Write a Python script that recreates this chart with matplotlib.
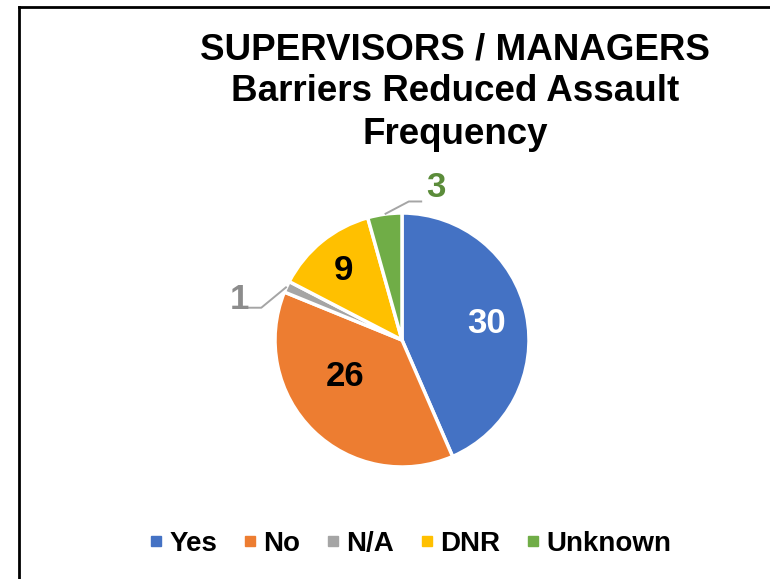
import numpy as np
import matplotlib
matplotlib.use("Agg")
import matplotlib.pyplot as plt
from matplotlib.lines import Line2D

plt.rcParams["font.family"] = ["Liberation Sans", "DejaVu Sans"]
plt.rcParams["font.weight"] = "bold"

categories = ["Yes", "No", "N/A", "DNR", "Unknown"]
counts = [30, 26, 1, 9, 3]
colors = ["#4472C4", "#ED7D31", "#A5A5A5", "#FFC000", "#70AD47"]
label_colors = ["white", "black", "#8C8C8C", "black", "#5B8C3A"]

# inside labels: (radius fraction, angle shift in degrees); None -> outside label
inside_pos = [(0.685, 1), (0.52, -15), None, (0.73, 0), None]
# outside labels: elbow offset from slice edge, run direction, text offset
outside_pos = {2: ((-0.2, -0.165), -1, (-0.07, 0.065)),
               4: ((0.19, 0.10), 1, (0.11, 0.11))}

fig = plt.figure(figsize=(7.7, 5.79), dpi=100)
W, H = 770, 579
R = 127  # pie radius in pixels
cx, cy = 402, 340
lim = 1.8
side = 2 * lim * R
ax = fig.add_axes([(cx - side / 2) / W, (H - cy - side / 2) / H, side / W, side / H])

wedges, _ = ax.pie(counts, colors=colors, startangle=90, counterclock=False,
                   radius=1, wedgeprops=dict(edgecolor="white", linewidth=2.5))
ax.set_xlim(-lim, lim)
ax.set_ylim(-lim, lim)
ax.set_aspect("equal")
ax.axis("off")

for i, (w, n, col) in enumerate(zip(wedges, counts, label_colors)):
    mid = (w.theta1 + w.theta2) / 2
    if inside_pos[i] is not None:
        r, shift = inside_pos[i]
        a = np.deg2rad(mid + shift)
        ax.text(r * np.cos(a), r * np.sin(a) - 0.022, str(n), color=col,
                fontsize=25, ha="center", va="center")
    else:
        (dx, dy), d, (tx, ty) = outside_pos[i]
        a = np.deg2rad(mid)
        x0, y0 = np.cos(a), np.sin(a)
        ex, ey = x0 + dx, y0 + dy
        hx = ex + d * 0.105
        ax.plot([x0, ex, hx], [y0, ey, ey], color="#A5A5A5", lw=1.4,
                clip_on=False, solid_capstyle="butt")
        ax.text(hx + tx, ey + ty, str(n), color=col,
                fontsize=25, ha="center", va="center", clip_on=False)

# title, three lines on fixed baselines
title_lines = ["SUPERVISORS / MANAGERS", "Barriers Reduced Assault", "Frequency"]
for i, line in enumerate(title_lines):
    fig.text(455 / W, 1 - (59 + 42.3 * i) / H, line, fontsize=26.5,
             ha="center", va="baseline")

handles = [Line2D([], [], marker="s", linestyle="none", markersize=7,
                  markerfacecolor=c, markeredgecolor=c) for c in colors]
fig.legend(handles, categories, loc="center", bbox_to_anchor=(410 / W, 1 - 544 / H),
           ncol=5, frameon=False, fontsize=20, handlelength=0.5,
           handletextpad=0.23, columnspacing=0.93, borderpad=0, borderaxespad=0)

# outer frame
fig.add_artist(Line2D([19 / W, 19 / W], [0, 1 - 7 / H], color="black", lw=2,
                      transform=fig.transFigure))
fig.add_artist(Line2D([19 / W, 1], [1 - 7 / H, 1 - 7 / H], color="black", lw=2,
                      transform=fig.transFigure))

fig.savefig("out.png", dpi=100)
